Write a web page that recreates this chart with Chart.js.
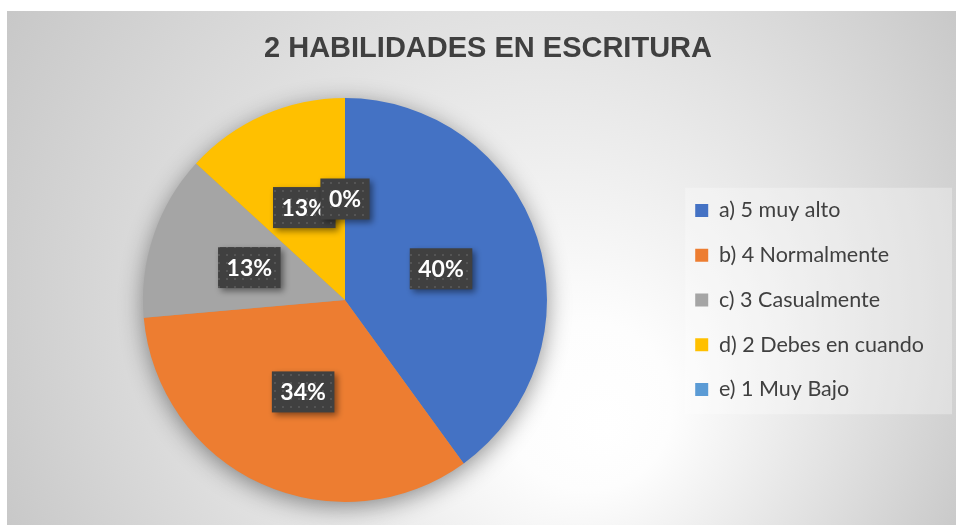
<!DOCTYPE html>
<html>
<head>
<meta charset="utf-8">
<script src="https://cdn.jsdelivr.net/npm/chart.js@4/dist/chart.umd.min.js"></script>
<style>
    html, body { margin: 0; padding: 0; background: #fff; }
    #wrap { position: absolute; left: 7px; top: 11px; width: 949px; height: 514px; }
</style>
</head>
<body>
<div id="wrap"><canvas id="pieChart"></canvas></div>
<script>
// Data (share of answers)
const labels = ['a) 5 muy alto', 'b) 4 Normalmente', 'c) 3 Casualmente', 'd) 2 Debes en cuando', 'e) 1 Muy Bajo'];
const values = [40, 33.6, 13.2, 13.2, 0];
const colors = ['#4472C4', '#ED7D31', '#A5A5A5', '#FFC000', '#5B9BD5'];

// Dotted dark fill used behind the data labels
function makePattern(ctx) {
    const c = document.createElement('canvas');
    c.width = 8; c.height = 8;
    const p = c.getContext('2d');
    p.fillStyle = '#404040';
    p.fillRect(0, 0, 8, 8);
    p.fillStyle = '#555555';
    p.fillRect(3, 3, 2, 2);
    return ctx.createPattern(c, 'repeat');
}

const backgroundPlugin = {
    id: 'bg',
    afterLayout(chart) {
        // title sits a bit right of the canvas centre in the original
        const t = chart.titleBlock;
        if (t) {
            const shift = 481 - (t.left + t.right) / 2;
            t.left += shift;
            t.right += shift;
        }
    },
    beforeDraw(chart) {
        const { ctx, width, height } = chart;
        const g = ctx.createRadialGradient(600, 420, 0, 475, 257, 560);
        g.addColorStop(0, '#ffffff');
        g.addColorStop(0.15, '#fdfdfd');
        g.addColorStop(1, '#c6c6c6');
        ctx.save();
        ctx.fillStyle = g;
        ctx.fillRect(0, 0, width, height);

        // legend panel
        const lg = chart.legend;
        if (lg && lg.legendHitBoxes && lg.legendHitBoxes.length) {
            const hb = lg.legendHitBoxes;
            const last = hb[hb.length - 1];
            const x0 = hb[0].left - 10;
            const y0 = hb[0].top - 12;
            const y1 = last.top + last.height + 14;
            ctx.fillStyle = 'rgba(255,255,255,0.3)';
            ctx.fillRect(x0, y0, width - 4 - x0, y1 - y0);
        }
        ctx.restore();
    }
};

const pieShadowPlugin = {
    id: 'pieShadow',
    beforeDatasetsDraw(chart) {
        const arc = chart.getDatasetMeta(0).data[0];
        if (!arc) return;
        const { ctx } = chart;
        ctx.save();
        ctx.shadowColor = 'rgba(0,0,0,0.45)';
        ctx.shadowBlur = 24;
        ctx.shadowOffsetY = 5;
        ctx.fillStyle = '#999';
        ctx.beginPath();
        ctx.arc(arc.x, arc.y, arc.outerRadius - 1, 0, Math.PI * 2);
        ctx.fill();
        ctx.restore();
    }
};

const dataLabelPlugin = {
    id: 'pctLabels',
    afterDatasetsDraw(chart) {
        const { ctx } = chart;
        const meta = chart.getDatasetMeta(0);
        const total = values.reduce((a, b) => a + b, 0);
        const pattern = makePattern(ctx);
        ctx.save();
        ctx.font = 'bold 23px Lato';
        ctx.textAlign = 'center';
        ctx.textBaseline = 'middle';
        meta.data.forEach((arc, i) => {
            const pos = arc.tooltipPosition();
            const txt = Math.round(values[i] / total * 100) + '%';
            const w = ctx.measureText(txt).width + 17;
            const h = 41;
            ctx.save();
            ctx.shadowColor = 'rgba(0,0,0,0.45)';
            ctx.shadowBlur = 6;
            ctx.shadowOffsetX = 3;
            ctx.shadowOffsetY = 3;
            ctx.fillStyle = pattern;
            ctx.fillRect(pos.x - w / 2, pos.y - h / 2, w, h);
            ctx.restore();
            ctx.fillStyle = '#ffffff';
            ctx.fillText(txt, pos.x, pos.y + 1);
        });
        ctx.restore();
    }
};

new Chart(document.getElementById('pieChart'), {
    type: 'pie',
    data: {
        labels: labels,
        datasets: [{
            data: values,
            backgroundColor: colors,
            borderWidth: 0
        }]
    },
    plugins: [backgroundPlugin, pieShadowPlugin, dataLabelPlugin],
    options: {
        responsive: true, maintainAspectRatio: false,
        animation: false,
        layout: { padding: { left: 11, right: 22, top: 0, bottom: 23 } },
        plugins: {
            title: {
                display: true,
                text: '2 HABILIDADES EN ESCRITURA',
                color: '#404040',
                font: { family: 'Liberation Sans', size: 29, weight: 'bold' },
                padding: { top: 20.6, bottom: 31.6 }
            },
            legend: {
                position: 'right',
                fullSize: false,
                labels: {
                    color: '#404040',
                    font: { family: 'Lato', size: 21.5 },
                    boxWidth: 13, boxHeight: 13,
                    padding: 23.25
                }
            },
            tooltip: { enabled: false }
        }
    }
});
</script>
</body>
</html>
